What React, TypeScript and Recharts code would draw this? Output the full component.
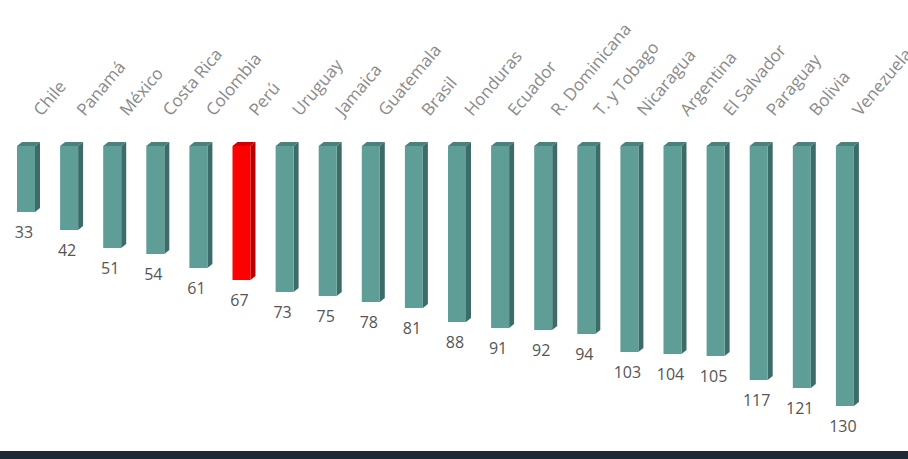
import { BarChart, Bar, XAxis, YAxis, LabelList, Cell } from "recharts";

const countries = [
  "Chile", "Panamá", "México", "Costa Rica", "Colombia", "Perú", "Uruguay", "Jamaica",
  "Guatemala", "Brasil", "Honduras", "Ecuador", "R. Dominicana", "T. y Tobago",
  "Nicaragua", "Argentina", "El Salvador", "Paraguay", "Bolivia", "Venezuela",
];
const values = [33, 42, 51, 54, 61, 67, 73, 75, 78, 81, 88, 91, 92, 94, 103, 104, 105, 117, 121, 130];
const highlight = "Perú";

const data = countries.map((pais, i) => ({ pais, valor: values[i] }));

const TEAL = { front: "#5f9d97", side: "#3d6c68", top: "#4a817c" };
const RED = { front: "#ff0000", side: "#b80000", top: "#d40000" };

const DX = 5;
const DY = -4;

// reversed axis gives negative heights, normalise to top + length
function box(y: number, height: number) {
  return { top: Math.min(y, y + height), len: Math.abs(height) };
}

function Bar3D(props: any) {
  const { x, y, width, height, payload } = props;
  const c = payload.pais === highlight ? RED : TEAL;
  const { top, len } = box(y, height);
  const w = width;
  return (
    <g>
      <polygon
        points={`${x},${top} ${x + DX},${top + DY} ${x + w + DX},${top + DY} ${x + w},${top}`}
        fill={c.top}
      />
      <polygon
        points={`${x + w},${top} ${x + w + DX},${top + DY} ${x + w + DX},${top + len + DY} ${x + w},${top + len}`}
        fill={c.side}
      />
      <rect x={x} y={top} width={w} height={len} fill={c.front} />
    </g>
  );
}

function CountryTick({ x, y, payload }: any) {
  return (
    <text
      x={0}
      y={0}
      transform={`translate(${x + 16},${y - 29}) rotate(-50)`}
      textAnchor="start"
      fill="#8a8a8a"
      fontSize={17}
      fontFamily="'Open Sans', sans-serif"
    >
      {payload.value}
    </text>
  );
}

function ValueLabel({ x, y, width, height, value }: any) {
  const { top, len } = box(y, height);
  return (
    <text
      x={x + width / 2 - 2}
      y={top + len + 26}
      textAnchor="middle"
      fill="#555555"
      fontSize={16}
      fontFamily="'Open Sans', sans-serif"
    >
      {value}
    </text>
  );
}

export default function App() {
  return (
    <div style={{ position: "absolute", left: 0, top: 0, width: 908, height: 459, background: "#fff", overflow: "hidden" }}>
      <BarChart
        width={908}
        height={451}
        data={data}
        margin={{ top: 0, right: 42, bottom: 5, left: 4 }}
        barSize={18}
      >
        <XAxis
          dataKey="pais"
          orientation="top"
          height={146}
          axisLine={false}
          tickLine={false}
          tickSize={0}
          tickMargin={0}
          interval={0}
          tick={<CountryTick />}
        />
        <YAxis type="number" domain={[0, 150]} reversed hide />
        <Bar dataKey="valor" shape={<Bar3D />} isAnimationActive={false}>
          {data.map((d) => (
            <Cell key={d.pais} fill={d.pais === highlight ? RED.front : TEAL.front} />
          ))}
          <LabelList dataKey="valor" content={<ValueLabel />} />
        </Bar>
      </BarChart>
      <div style={{ position: "absolute", left: 0, top: 451, width: 908, height: 8, background: "#1e2935" }} />
    </div>
  );
}
